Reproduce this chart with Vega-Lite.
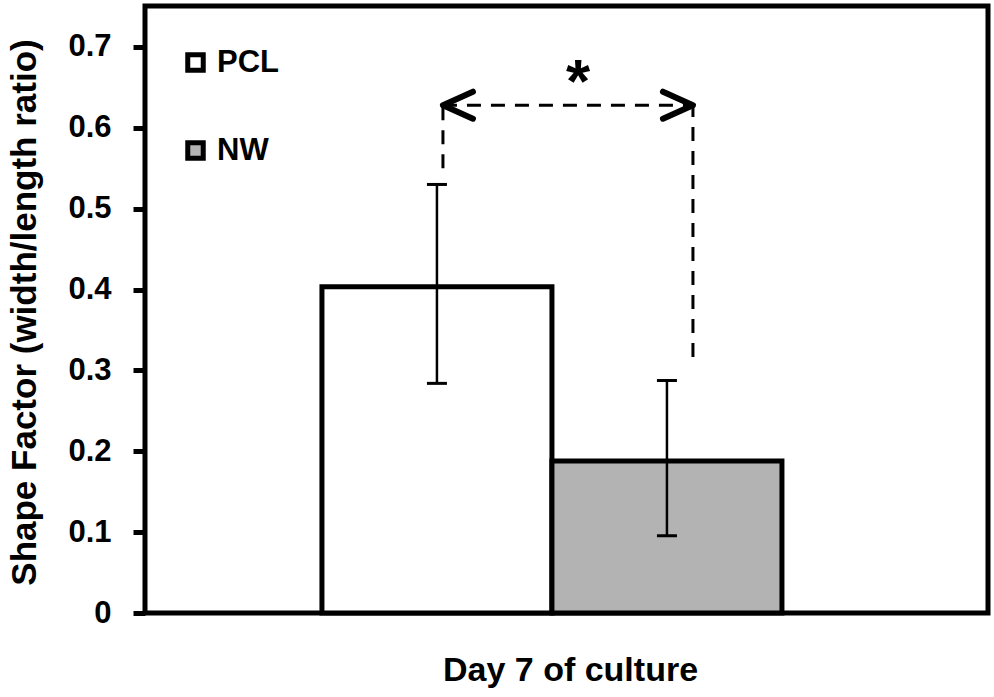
{
  "$schema": "https://vega.github.io/schema/vega-lite/v6.json",
  "width": 843,
  "height": 607,
  "autosize": {"type": "none"},
  "padding": {"left": 145, "top": 6, "right": 6, "bottom": 84},
  "background": "white",
  "config": {
    "view": {"stroke": "black", "strokeWidth": 5},
    "font": "Liberation Sans"
  },
  "datasets": {
    "bars": [
      {"group": "PCL", "mean": 0.4035, "lo": 0.284, "hi": 0.53},
      {"group": "NW", "mean": 0.188, "lo": 0.0954, "hi": 0.2875}
    ]
  },
  "encoding": {
    "x": {
      "field": "group",
      "type": "nominal",
      "sort": ["PCL", "NW"],
      "scale": {"domain": ["PCL", "NW"], "paddingInner": 0, "paddingOuter": 0.8326, "align": 0.462},
      "axis": {
        "title": "Day 7 of culture",
        "labels": false,
        "ticks": false,
        "domain": false,
        "titleFontSize": 34,
        "titleFontWeight": "bold",
        "titleFont": "Liberation Sans",
        "titleColor": "black",
        "titlePadding": 40,
        "titleX": 425
      }
    }
  },
  "layer": [
    {
      "data": {"name": "bars"},
      "mark": {"type": "bar", "stroke": "black", "strokeWidth": 5, "strokeJoin": "miter"},
      "encoding": {
        "y": {
          "field": "mean",
          "type": "quantitative",
          "scale": {"domain": [0, 0.7507], "nice": false, "zero": true},
          "axis": {
            "title": "Shape Factor (width/length ratio)",
            "values": [0, 0.1, 0.2, 0.3, 0.4, 0.5, 0.6, 0.7],
            "format": "~g",
            "grid": false,
            "domain": false,
            "tickColor": "black",
            "tickWidth": 5,
            "tickSize": 12,
            "labelFontSize": 31,
            "labelFontWeight": "bold",
            "labelFont": "Liberation Sans",
            "labelColor": "black",
            "labelPadding": 22,
            "titleFontSize": 35,
            "titleFontWeight": "bold",
            "titleFont": "Liberation Sans",
            "titleColor": "black",
            "titlePadding": 25,
            "titleY": 306
          }
        },
        "fill": {
          "field": "group",
          "type": "nominal",
          "scale": {"domain": ["PCL", "NW"], "range": ["white", "#b3b3b3"]},
          "legend": {
            "orient": "none",
            "legendX": 35,
            "legendY": 41,
            "title": null,
            "padding": 0,
            "symbolType": "square",
            "symbolSize": 240,
            "symbolStrokeColor": "black",
            "symbolStrokeWidth": 5,
            "symbolOpacity": 1,
            "labelFontSize": 31,
            "labelFontWeight": "bold",
            "labelFont": "Liberation Sans",
            "labelColor": "black",
            "labelOffset": 6,
            "rowPadding": 51
          }
        }
      }
    },
    {
      "data": {"name": "bars"},
      "mark": {"type": "rule", "color": "black", "strokeWidth": 2.5},
      "encoding": {
        "y": {"field": "lo", "type": "quantitative"},
        "y2": {"field": "hi"}
      }
    },
    {
      "data": {"name": "bars"},
      "mark": {"type": "tick", "color": "black", "size": 20, "thickness": 3, "opacity": 1},
      "encoding": {"y": {"field": "lo", "type": "quantitative"}}
    },
    {
      "data": {"name": "bars"},
      "mark": {"type": "tick", "color": "black", "size": 20, "thickness": 3, "opacity": 1},
      "encoding": {"y": {"field": "hi", "type": "quantitative"}}
    },
    {
      "data": {"values": [{"group": "PCL", "y": 0.55, "y2": 0.628}]},
      "mark": {"type": "rule", "color": "black", "strokeWidth": 3, "strokeDash": [14, 10], "xOffset": 6},
      "encoding": {
        "y": {"field": "y", "type": "quantitative"},
        "y2": {"field": "y2"}
      }
    },
    {
      "data": {"values": [{"group": "NW", "y": 0.3166, "y2": 0.628}]},
      "mark": {"type": "rule", "color": "black", "strokeWidth": 3, "strokeDash": [14, 10], "xOffset": 26},
      "encoding": {
        "y": {"field": "y", "type": "quantitative"},
        "y2": {"field": "y2"}
      }
    },
    {
      "data": {"values": [{"from": "PCL", "to": "NW", "y": 0.628}]},
      "mark": {"type": "rule", "color": "black", "strokeWidth": 3, "strokeDash": [14, 10], "xOffset": 6, "x2Offset": 26},
      "encoding": {
        "x": {"field": "from", "type": "nominal"},
        "x2": {"field": "to"},
        "y": {"field": "y", "type": "quantitative"}
      }
    },
    {
      "data": {"values": [{"group": "PCL", "y": 0.628}]},
      "mark": {"type": "point", "shape": "M 2 -0.9 L 0 0 L 2 0.9", "size": 900, "filled": false, "stroke": "black", "strokeWidth": 6, "strokeCap": "round", "strokeJoin": "round", "opacity": 1, "xOffset": 6},
      "encoding": {"y": {"field": "y", "type": "quantitative"}}
    },
    {
      "data": {"values": [{"group": "NW", "y": 0.628}]},
      "mark": {"type": "point", "shape": "M -2 -0.9 L 0 0 L -2 0.9", "size": 900, "filled": false, "stroke": "black", "strokeWidth": 6, "strokeCap": "round", "strokeJoin": "round", "opacity": 1, "xOffset": 26},
      "encoding": {"y": {"field": "y", "type": "quantitative"}}
    },
    {
      "data": {"values": [{"group": "PCL", "y": 0.632, "label": "*"}]},
      "mark": {"type": "text", "fontSize": 62, "fontWeight": "bold", "font": "Liberation Sans", "color": "black", "baseline": "alphabetic", "align": "center", "xOffset": 26},
      "encoding": {
        "x": {"field": "group", "type": "nominal", "bandPosition": 1},
        "y": {"field": "y", "type": "quantitative"},
        "text": {"field": "label"}
      }
    }
  ]
}
